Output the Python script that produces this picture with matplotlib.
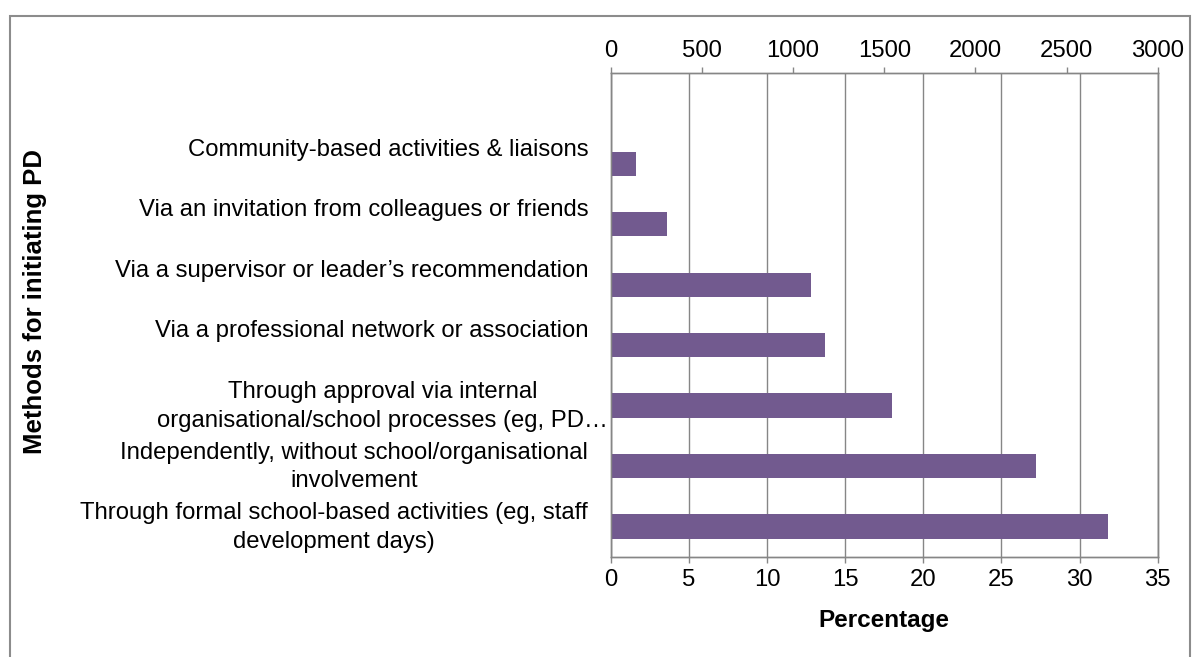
import matplotlib
matplotlib.use("Agg")
import matplotlib.pyplot as plt
from matplotlib.patches import Rectangle
from matplotlib.transforms import ScaledTranslation, blended_transform_factory

plt.rcParams['font.family'] = ['Liberation Sans', 'DejaVu Sans']

# Ways teachers initiated professional development, bottom bar first
methods = [
    "Through formal school-based activities (eg, staff\ndevelopment days)",
    "Independently, without school/organisational\ninvolvement",
    "Through approval via internal\norganisational/school processes (eg, PD…",
    "Via a professional network or association",
    "Via a supervisor or leader’s recommendation",
    "Via an invitation from colleagues or friends",
    "Community-based activities & liaisons",
]
percentages = [31.8, 27.2, 18.0, 13.7, 12.8, 3.6, 1.6]

pct_ticks = [0, 5, 10, 15, 20, 25, 30, 35]
count_ticks = [0, 500, 1000, 1500, 2000, 2500, 3000]

W, H = 1200, 657
DPI = 100
FS = 17.2
GREY = '#868686'
BAR = '#725A8F'

fig = plt.figure(figsize=(W / DPI, H / DPI), dpi=DPI)

# outer chart frame
fig.patches.append(Rectangle((9.5 / W, -0.1), (1190 - 9.5) / W, 1.1 - 15.5 / H,
                             transform=fig.transFigure, fill=False,
                             edgecolor='#8c8c8c', linewidth=1.5))

left, right, top, bottom = 610.7, 1157.7, 73.0, 556.7
ax = fig.add_axes([left / W, 1 - bottom / H, (right - left) / W, (bottom - top) / H])

ypos = list(range(len(methods)))
ax.barh(ypos, percentages, height=0.4, color=BAR, zorder=3)

ax.set_xlim(pct_ticks[0], pct_ticks[-1])
ax.set_ylim(-0.5, len(methods) + 0.5)
ax.set_xticks(pct_ticks)
ax.set_xticklabels([str(t) for t in pct_ticks], fontsize=FS)
ax.set_yticks([])
ax.xaxis.grid(True, color=GREY, linewidth=1.0, zorder=0)
ax.set_axisbelow(True)
ax.tick_params(axis='x', direction='out', length=4.5, width=1.0, color=GREY,
               pad=4.5, labelcolor='black')
for s in ax.spines.values():
    s.set_color(GREY)
    s.set_linewidth(1.0)

# secondary count axis along the top
ax_top = ax.twiny()
ax_top.set_xlim(count_ticks[0], count_ticks[-1])
ax_top.set_xticks(count_ticks)
ax_top.set_xticklabels([str(t) for t in count_ticks], fontsize=FS)
ax_top.tick_params(axis='x', direction='out', length=4, width=1.0, color=GREY, pad=4)
for s in ax_top.spines.values():
    s.set_color(GREY)
    s.set_linewidth(1.0)

# category labels
base = blended_transform_factory(ax.transAxes, ax.transData)
for y, label in zip(ypos, methods):
    multi = '\n' in label
    truncated = label.endswith('…')
    dx = -3 if truncated else -22.5
    dy = -1 if multi else 14
    tr = base + ScaledTranslation(dx / DPI, dy / DPI, fig.dpi_scale_trans)
    ax.text(0, y, label, transform=tr, ha='right', va='center',
            multialignment='center', fontsize=FS, linespacing=1.38)

fig.text((left + right) / 2 / W, 1 - 621 / H, 'Percentage', ha='center', va='center',
         fontsize=17.5, fontweight='bold')
fig.text(35 / W, 1 - 302 / H, 'Methods for initiating PD', ha='center', va='center',
         rotation=90, fontsize=18.5, fontweight='bold')

fig.savefig('out.png', dpi=DPI, facecolor='white')
